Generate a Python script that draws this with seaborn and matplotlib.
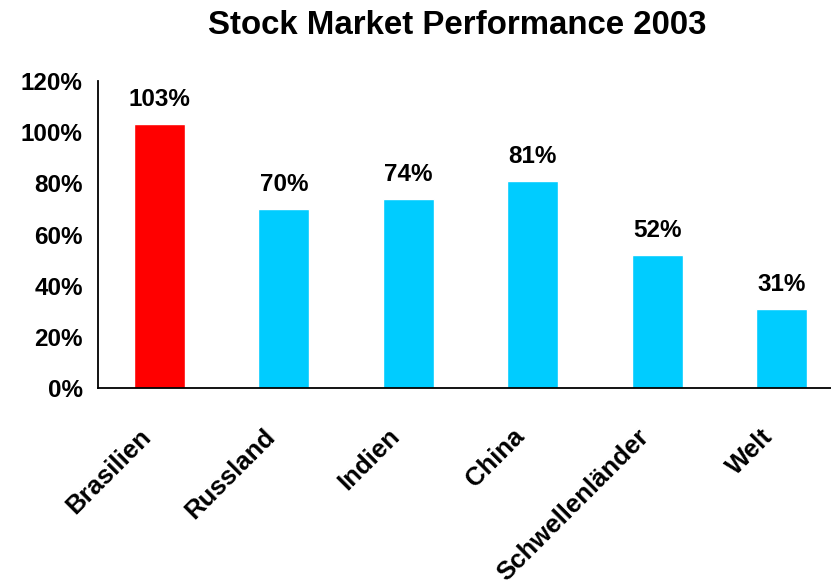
import matplotlib
matplotlib.use("Agg")
import matplotlib.pyplot as plt
import matplotlib.transforms as mtransforms
from matplotlib.ticker import PercentFormatter
import pandas as pd
import seaborn as sns

# data
countries = ["Brasilien", "Russland", "Indien", "China", "Schwellenländer", "Welt"]
performance = [103, 70, 74, 81, 52, 31]
bar_colors = ["#FF0000", "#00CCFF", "#00CCFF", "#00CCFF", "#00CCFF", "#00CCFF"]

df = pd.DataFrame({"Land": countries, "Perf": [v / 100 for v in performance]})

sns.set_style("white")
plt.rcParams["font.family"] = ["Liberation Sans", "DejaVu Sans"]
plt.rcParams["font.weight"] = "bold"
plt.rcParams["text.color"] = "black"
plt.rcParams["xtick.color"] = "black"
plt.rcParams["ytick.color"] = "black"

fig = plt.figure(figsize=(8.31, 5.84), dpi=100)
ax = fig.add_axes([0.1179, 0.3356, 0.8821, 0.5257])

sns.barplot(data=df, x="Land", y="Perf", hue="Land", palette=bar_colors,
            dodge=False, width=0.41, saturation=1, legend=False, ax=ax)

# value labels above the bars
for i, v in enumerate(performance):
    ax.annotate(f"{v}%", (i, v / 100), xytext=(0, 13), textcoords="offset points",
                ha="center", va="baseline", fontsize=17.5, fontweight="bold",
                color="black")

ax.set_ylim(0, 1.2)
ax.set_xlim(-0.494, 5.398)
ax.yaxis.set_major_formatter(PercentFormatter(1.0, decimals=0))
ax.set_yticks([0, 0.2, 0.4, 0.6, 0.8, 1.0, 1.2])
ax.set_xlabel("")
ax.set_ylabel("")

ax.tick_params(axis="y", length=0, pad=11, labelsize=17.5, labelcolor="black")
ax.tick_params(axis="x", length=0, pad=28, labelsize=18.5, labelcolor="black")
for lab in ax.get_yticklabels():
    lab.set_fontweight("bold")

sns.despine(ax=ax, top=True, right=True)
for s in ["left", "bottom"]:
    ax.spines[s].set_color("black")
    ax.spines[s].set_linewidth(1.3)
ax.grid(False)

fig.text(0.5505, 1 - 34 / 584, "Stock Market Performance 2003", ha="center",
         va="baseline", fontsize=23.8, fontweight="bold", color="black")

# rotated country names, nudged left/down like the original
fig.canvas.draw()
nudge = mtransforms.ScaledTranslation(-12 / 100, -6 / 100, fig.dpi_scale_trans)
for lab in ax.get_xticklabels():
    lab.set_rotation(45)
    lab.set_ha("right")
    lab.set_va("center")
    lab.set_rotation_mode("anchor")
    lab.set_fontweight("bold")
    lab.set_transform(lab.get_transform() + nudge)

fig.savefig("out.png", dpi=100, facecolor="white")
